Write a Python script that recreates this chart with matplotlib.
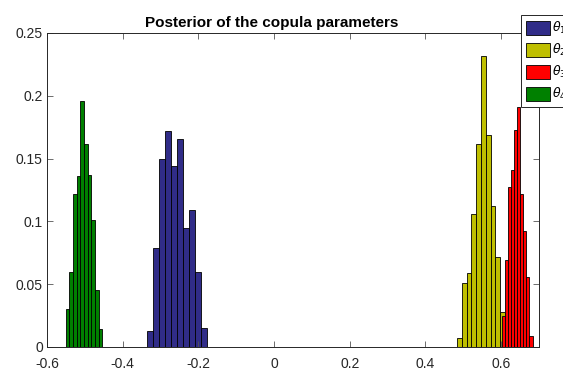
import numpy as np
import matplotlib
matplotlib.use("Agg")
import matplotlib.pyplot as plt
from matplotlib.patches import Patch

plt.rcParams["font.family"] = ["Liberation Sans", "DejaVu Sans"]
plt.rcParams["axes.unicode_minus"] = False
plt.rcParams["mathtext.fontset"] = "dejavusans"

# posterior histograms (normalised counts) of the four copula parameters
labels = [r"$\theta_1$", r"$\theta_2$", r"$\theta_3$", r"$\theta_4$"]
colors = ["#302c88", "#bfbf00", "#ff0000", "#008000"]

theta1_range = (-0.337, -0.176)
theta1_prob = [0.013, 0.079, 0.150, 0.172, 0.144, 0.166, 0.095, 0.109, 0.060, 0.015]

theta2_range = (0.4835, 0.6098)
theta2_prob = [0.007, 0.051, 0.059, 0.106, 0.162, 0.232, 0.169, 0.112, 0.072, 0.028]

theta3_range = (0.6016, 0.683)
theta3_prob = [0.025, 0.069, 0.127, 0.141, 0.173, 0.191, 0.122, 0.092, 0.056, 0.009]

theta4_range = (-0.5505, -0.4543)
theta4_prob = [0.030, 0.060, 0.122, 0.136, 0.196, 0.162, 0.137, 0.101, 0.045, 0.014]

ranges = [theta1_range, theta2_range, theta3_range, theta4_range]
probs = [theta1_prob, theta2_prob, theta3_prob, theta4_prob]

fig = plt.figure(figsize=(5.63, 3.70), dpi=100)
ax = fig.add_axes([47 / 563, 23 / 370, 492 / 563, 314 / 370])

for (lo, hi), p, c in zip(ranges, probs, colors):
    edges = np.linspace(lo, hi, len(p) + 1)
    w = edges[1] - edges[0]
    ax.bar(edges[:-1], p, width=w, align="edge", color=c,
           edgecolor="black", linewidth=0.6)

ax.set_xlim(-0.6, 0.7)
ax.set_ylim(0, 0.25)
ax.set_xticks([-0.6, -0.4, -0.2, 0, 0.2, 0.4, 0.6])
ax.set_xticklabels(["-0.6", "-0.4", "-0.2", "0", "0.2", "0.4", "0.6"])
ax.set_yticks([0, 0.05, 0.1, 0.15, 0.2, 0.25])
ax.set_yticklabels(["0", "0.05", "0.1", "0.15", "0.2", "0.25"])
ax.tick_params(direction="in", length=4, width=0.6, colors="#555555",
               labelcolor="#262626", labelsize=10, top=True, right=True)
ax.tick_params(axis="x", pad=7)
ax.tick_params(axis="y", pad=3)
for s in ax.spines.values():
    s.set_color("#262626")
    s.set_linewidth(0.7)

ax.set_title("Posterior of the copula parameters", fontsize=11,
             fontweight="bold", x=0.457, pad=4)

handles = [Patch(facecolor=c, edgecolor="black", linewidth=0.6) for c in colors]
leg = fig.legend(handles, labels, loc="upper left",
                 bbox_to_anchor=(521 / 563, 1 - 15 / 370),
                 bbox_transform=fig.transFigure, fontsize=9,
                 handlelength=1.9, handleheight=1.28, handletextpad=0.2,
                 labelspacing=0.48, borderpad=0.4, borderaxespad=0,
                 fancybox=False, framealpha=1, edgecolor="#262626")
leg.get_frame().set_linewidth(0.7)
leg.set_zorder(10)

fig.savefig("out.png", dpi=100)
